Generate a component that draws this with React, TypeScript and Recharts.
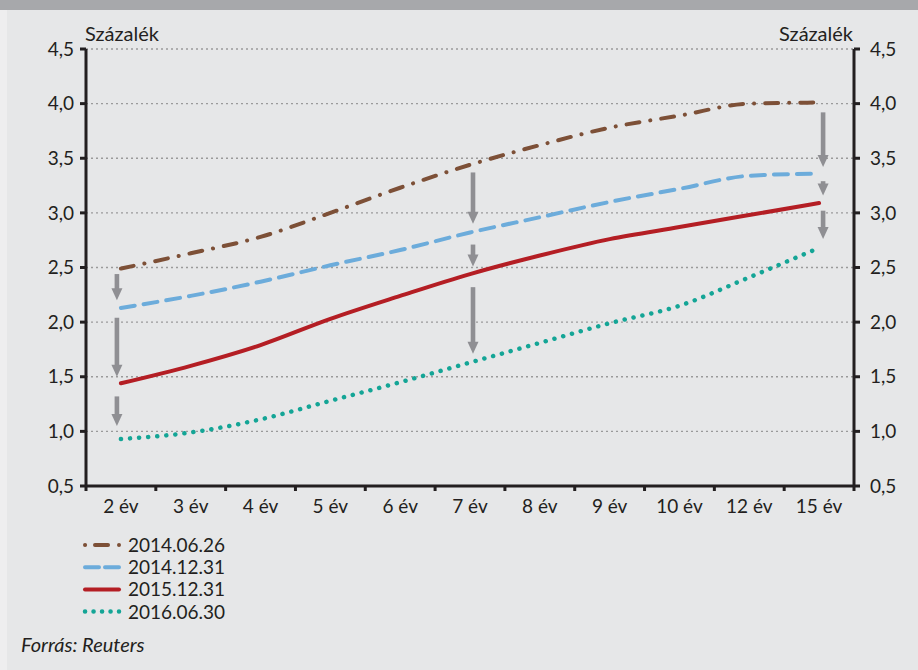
import React from 'react';
import { LineChart, Line, XAxis, YAxis, CartesianGrid, ReferenceLine } from 'recharts';

const CATEGORIES = ['2 év', '3 év', '4 év', '5 év', '6 év', '7 év', '8 év', '9 év', '10 év', '12 év', '15 év'];
const S_2014_06_26 = [2.49, 2.63, 2.78, 3.0, 3.23, 3.44, 3.62, 3.78, 3.89, 4.0, 4.01];
const S_2014_12_31 = [2.13, 2.24, 2.37, 2.52, 2.66, 2.82, 2.96, 3.1, 3.22, 3.34, 3.36];
const S_2015_12_31 = [1.44, 1.6, 1.79, 2.03, 2.24, 2.44, 2.61, 2.76, 2.87, 2.98, 3.09];
const S_2016_06_30 = [0.93, 0.99, 1.11, 1.28, 1.45, 1.63, 1.81, 1.99, 2.15, 2.41, 2.68];
const SERIES_NAMES = ['2014.06.26', '2014.12.31', '2015.12.31', '2016.06.30'];
const Y_TICKS = [0.5, 1.0, 1.5, 2.0, 2.5, 3.0, 3.5, 4.0, 4.5];
const Y_UNIT = 'Százalék';
const SOURCE = 'Forrás: Reuters';
const ARROWS = [
  { cat: '2 év', from: 2.44, to: 2.2 },
  { cat: '2 év', from: 2.04, to: 1.5 },
  { cat: '2 év', from: 1.32, to: 1.05 },
  { cat: '7 év', from: 3.37, to: 2.9 },
  { cat: '7 év', from: 2.71, to: 2.51 },
  { cat: '7 év', from: 2.32, to: 1.71 },
  { cat: '15 év', from: 3.92, to: 3.42 },
  { cat: '15 év', from: 3.29, to: 3.16 },
  { cat: '15 év', from: 3.02, to: 2.76 },
];

const data = CATEGORIES.map((c, i) => ({
  cat: c,
  a: S_2014_06_26[i],
  b: S_2014_12_31[i],
  c: S_2015_12_31[i],
  d: S_2016_06_30[i],
}));

const W = 918;
const H = 670;
const MARGIN = { top: 49, right: 4, left: 26, bottom: 144 };
const Y_AXIS_W = 60;
const X_AXIS_H = 40;
const PLOT_W = W - MARGIN.left - MARGIN.right - 2 * Y_AXIS_W;
const BAND = PLOT_W / CATEGORIES.length;
const X_TICK_GAP = 14;

const FONT = 'Lato, "Open Sans", sans-serif';
const FS = 19;
const TEXT_COLOR = '#231f20';
const AXIS_COLOR = '#231f20';
const BG = '#e6e7e8';
const BAR = '#a7a8ab';
const ARROW_COLOR = '#8f8f93';
const ARROW_DX: Record<string, number> = { '2 év': -4, '7 év': 3, '15 év': 4 };

const STYLES = [
  { key: 'a', color: '#7d5037', dash: '13 11 0.1 11', width: 4 },
  { key: 'b', color: '#6cacdb', dash: '14 9', width: 4 },
  { key: 'c', color: '#b41e24', dash: undefined, width: 4 },
  { key: 'd', color: '#14a596', dash: '0.1 9', width: 4.5 },
];
const LEGEND_DASH = ['0.1 9.9 13 11 0.1 100', '14 6', undefined, '0.1 8.4'];

const fmt = (v: number) => v.toFixed(1).replace('.', ',');

const XTick = (props: any) => {
  const { x, y, payload, index } = props;
  const axisY = y - X_TICK_GAP;
  const last = index === CATEGORIES.length - 1;
  return (
    <g>
      <line x1={x - BAND / 2} x2={x - BAND / 2} y1={axisY} y2={axisY + 5} stroke={AXIS_COLOR} strokeWidth={3} />
      {last && <line x1={x + BAND / 2} x2={x + BAND / 2} y1={axisY} y2={axisY + 5} stroke={AXIS_COLOR} strokeWidth={3} />}
      <text x={x} y={y} dy="0.71em" textAnchor="middle" fontFamily={FONT} fontSize={FS} fill={TEXT_COLOR}>
        {payload.value}
      </text>
    </g>
  );
};

const Arrow = (props: any) => {
  const { x1, y1, y2, dx } = props;
  if (x1 == null || y1 == null || y2 == null) return null;
  const x = x1 + (dx || 0);
  const head = 12;
  const hw = 5.5;
  const shaftEnd = y2 - head;
  return (
    <g>
      {shaftEnd > y1 && <rect x={x - 2.3} y={y1} width={4.6} height={shaftEnd - y1 + 1} fill={ARROW_COLOR} />}
      <polygon points={`${x - hw},${shaftEnd} ${x + hw},${shaftEnd} ${x},${y2}`} fill={ARROW_COLOR} />
    </g>
  );
};

export default function App() {
  const yAxisCommon = {
    domain: [0.5, 4.5] as [number, number],
    ticks: Y_TICKS,
    width: Y_AXIS_W,
    tickFormatter: fmt,
    tickSize: 6,
    allowDataOverflow: true,
    interval: 0 as const,
    axisLine: { stroke: AXIS_COLOR, strokeWidth: 3 },
    tickLine: { stroke: AXIS_COLOR, strokeWidth: 3 },
    tick: { fontFamily: FONT, fontSize: FS, fill: TEXT_COLOR },
  };
  return (
    <div style={{ position: 'absolute', left: 0, top: 0, width: W, height: H, background: BG, overflow: 'hidden' }}>
      <div style={{ position: 'absolute', left: 0, top: 0, width: W, height: 10, background: BAR }} />
      <div style={{ position: 'absolute', left: 0, top: 10, width: 7, height: H - 10, background: '#eeeeef' }} />
      <div style={{ position: 'absolute', left: 0, top: 0 }}>
        <LineChart width={W} height={H} data={data} margin={MARGIN}>
          <CartesianGrid vertical={false} stroke="#9a9a9a" strokeDasharray="2 3" strokeWidth={1.3} />
          <XAxis
            dataKey="cat"
            scale="band"
            height={X_AXIS_H}
            interval={0}
            tickSize={0}
            tickMargin={X_TICK_GAP}
            tick={<XTick />}
            axisLine={{ stroke: AXIS_COLOR, strokeWidth: 3 }}
            tickLine={false}
          />
          <YAxis {...yAxisCommon} tickMargin={6} />
          <YAxis {...yAxisCommon} yAxisId="right" orientation="right" tickMargin={10} />
          <Line
            yAxisId="right"
            dataKey="a"
            stroke="none"
            dot={false}
            activeDot={false}
            legendType="none"
            isAnimationActive={false}
          />
          {STYLES.map((s, i) => (
            <Line
              key={s.key}
              dataKey={s.key}
              name={SERIES_NAMES[i]}
              type="monotone"
              stroke={s.color}
              strokeWidth={s.width}
              strokeDasharray={s.dash}
              strokeLinecap="round"
              dot={false}
              activeDot={false}
              isAnimationActive={false}
            />
          ))}
          {ARROWS.map((a, i) => (
            <ReferenceLine
              key={i}
              segment={[{ x: a.cat, y: a.from }, { x: a.cat, y: a.to }]}
              ifOverflow="visible"
              shape={(p: any) => <Arrow {...p} dx={ARROW_DX[a.cat]} />}
            />
          ))}
        </LineChart>
      </div>
      <svg
        width={W}
        height={H}
        style={{ position: 'absolute', left: 0, top: 0, pointerEvents: 'none' }}
      >
        <text x={85} y={41} fontFamily={FONT} fontSize={20} fill={TEXT_COLOR}>{Y_UNIT}</text>
        <text x={853} y={41} textAnchor="end" fontFamily={FONT} fontSize={20} fill={TEXT_COLOR}>{Y_UNIT}</text>
        {SERIES_NAMES.map((n, i) => {
          const base = 552 + i * 22.2;
          const ly = base - 7;
          return (
            <g key={n}>
              <line
                x1={85}
                x2={119}
                y1={ly}
                y2={ly}
                stroke={STYLES[i].color}
                strokeWidth={STYLES[i].width}
                strokeDasharray={LEGEND_DASH[i]}
                strokeLinecap="round"
              />
              <text x={128} y={base} fontFamily={FONT} fontSize={FS} fill={TEXT_COLOR}>{n}</text>
            </g>
          );
        })}
        <text x={21} y={652} fontFamily={FONT} fontSize={20} fontStyle="italic" fill={TEXT_COLOR}>{SOURCE}</text>
      </svg>
    </div>
  );
}
